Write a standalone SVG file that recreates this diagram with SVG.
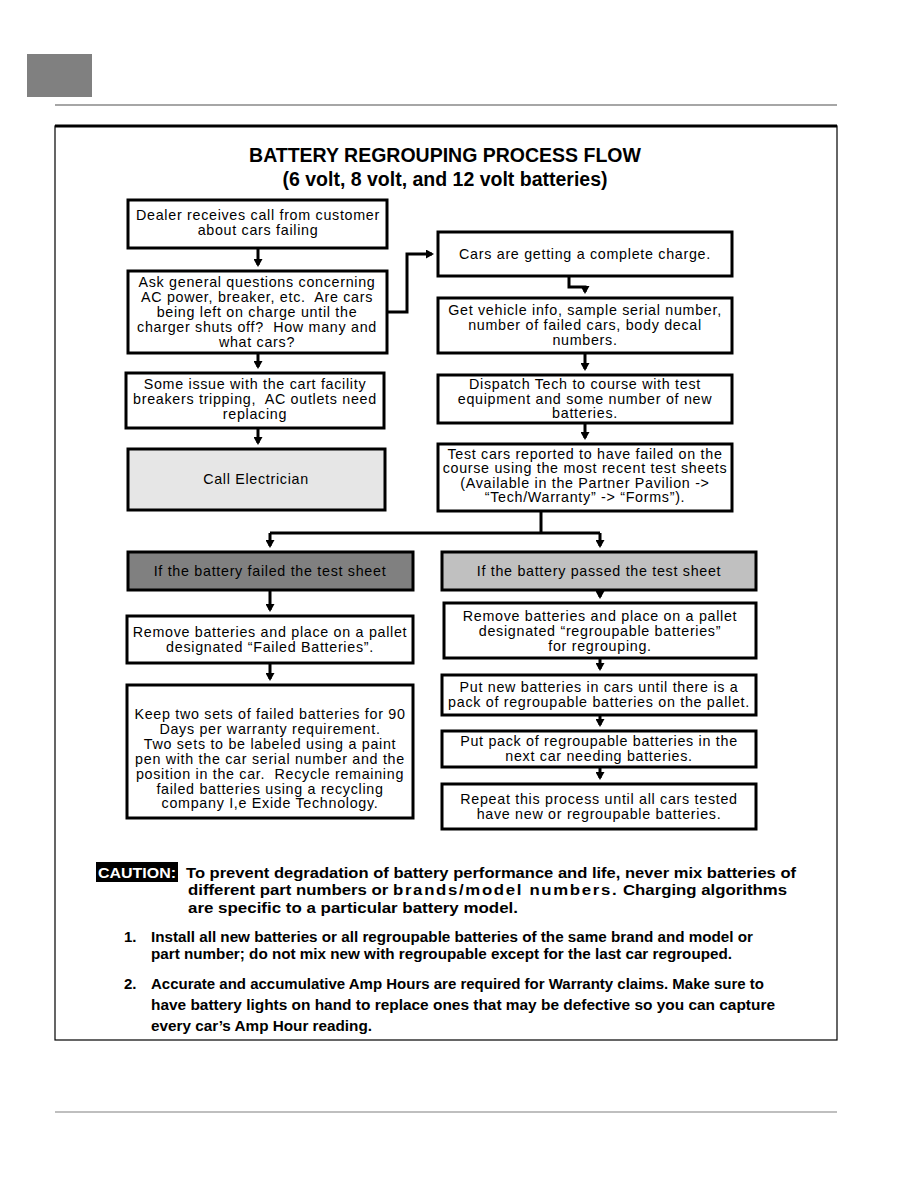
<svg xmlns="http://www.w3.org/2000/svg" width="918" height="1188" viewBox="0 0 918 1188">
<style>
.box{fill:#fff;stroke:#000;stroke-width:3}
.t{font-family:"Liberation Sans",Arial,sans-serif;font-size:14.3px;letter-spacing:0.7px;text-anchor:middle;fill:#000;white-space:pre}
.title{font-family:"Liberation Sans",Arial,sans-serif;font-size:19.5px;font-weight:bold;text-anchor:middle}
.n{font-family:"Liberation Sans Narrow","Liberation Sans",Arial,sans-serif;font-size:15px;font-weight:bold}
.c{fill:none;stroke:#000;stroke-width:3}
</style>
<defs>
<marker id="ah" markerWidth="9" markerHeight="9" refX="6" refY="4.5" orient="auto" markerUnits="userSpaceOnUse">
<path d="M0,0 L8,4.5 L0,9 Z" fill="#000"/>
</marker>
</defs>
<rect width="918" height="1188" fill="#fff"/>
<rect x="27" y="54" width="65" height="43" fill="#808080"/>
<line x1="55" y1="105" x2="837" y2="105" stroke="#888" stroke-width="1.5"/>
<line x1="55" y1="1112" x2="837" y2="1112" stroke="#aaa" stroke-width="1.5"/>
<rect x="55" y="126" width="782" height="914" fill="none" stroke="#000" stroke-width="1.2"/>
<line x1="55" y1="126" x2="837" y2="126" stroke="#000" stroke-width="3"/>
<text class="title" x="445" y="162">BATTERY REGROUPING PROCESS FLOW</text>
<text class="title" x="445" y="186">(6 volt, 8 volt, and 12 volt batteries)</text>

<g id="connectors">
<path class="c" d="M258,248 V265" marker-end="url(#ah)"/>
<path class="c" d="M258,353 V367" marker-end="url(#ah)"/>
<path class="c" d="M258,428 V443" marker-end="url(#ah)"/>
<path class="c" d="M387,312 H407 V254 H432" marker-end="url(#ah)"/>
<path class="c" d="M569,276 V287 H585 V292" marker-end="url(#ah)"/>
<path class="c" d="M585,353 V369" marker-end="url(#ah)"/>
<path class="c" d="M585,423 V438" marker-end="url(#ah)"/>
<path class="c" d="M541,511 V533"/>
<path class="c" d="M270,533 H600"/>
<path class="c" d="M270,533 V546" marker-end="url(#ah)"/>
<path class="c" d="M600,533 V546" marker-end="url(#ah)"/>
<path class="c" d="M270,590 V610" marker-end="url(#ah)"/>
<path class="c" d="M270,663 V679" marker-end="url(#ah)"/>
<path class="c" d="M600,590 V597" marker-end="url(#ah)"/>
<path class="c" d="M600,658 V669" marker-end="url(#ah)"/>
<path class="c" d="M600,715 V725" marker-end="url(#ah)"/>
<path class="c" d="M600,767 V778" marker-end="url(#ah)"/>
</g>

<g id="n1"><rect class="box" x="128" y="200" width="259" height="48"/>
<text class="t" x="258" y="220">Dealer receives call from customer</text>
<text class="t" x="258" y="235">about cars failing</text></g>

<g id="n2"><rect class="box" x="128" y="271" width="259" height="82"/>
<text class="t" x="257" y="287">Ask general questions concerning</text>
<text class="t" x="257" y="302">AC power, breaker, etc.  Are cars</text>
<text class="t" x="257" y="317">being left on charge until the</text>
<text class="t" x="257" y="332">charger shuts off?  How many and</text>
<text class="t" x="257" y="347">what cars?</text></g>

<g id="n3"><rect class="box" x="126" y="373" width="258" height="55"/>
<text class="t" x="255" y="389">Some issue with the cart facility</text>
<text class="t" x="255" y="404">breakers tripping,  AC outlets need</text>
<text class="t" x="255" y="419">replacing</text></g>

<g id="n4"><rect class="box" x="128" y="449" width="257" height="61" style="fill:#e6e6e6"/>
<text class="t" x="256" y="484">Call Electrician</text></g>

<g id="r1"><rect class="box" x="438" y="232" width="294" height="44"/>
<text class="t" x="585" y="259">Cars are getting a complete charge.</text></g>

<g id="r2"><rect class="box" x="438" y="298" width="294" height="55"/>
<text class="t" x="585" y="315">Get vehicle info, sample serial number,</text>
<text class="t" x="585" y="330">number of failed cars, body decal</text>
<text class="t" x="585" y="345">numbers.</text></g>

<g id="r3"><rect class="box" x="438" y="375" width="294" height="48"/>
<text class="t" x="585" y="389">Dispatch Tech to course with test</text>
<text class="t" x="585" y="404">equipment and some number of new</text>
<text class="t" x="585" y="418">batteries.</text></g>

<g id="r4"><rect class="box" x="438" y="444" width="294" height="67"/>
<text class="t" x="585" y="459">Test cars reported to have failed on the</text>
<text class="t" x="585" y="473">course using the most recent test sheets</text>
<text class="t" x="585" y="488">(Available in the Partner Pavilion -&gt;</text>
<text class="t" x="585" y="502">“Tech/Warranty” -&gt; “Forms”).</text></g>

<g id="l5"><rect class="box" x="128" y="552" width="285" height="38" style="fill:#808080"/>
<text class="t" x="270" y="576">If the battery failed the test sheet</text></g>

<g id="p5"><rect class="box" x="442" y="552" width="314" height="38" style="fill:#c0c0c0"/>
<text class="t" x="599" y="576">If the battery passed the test sheet</text></g>

<g id="l6"><rect class="box" x="127" y="616" width="286" height="47"/>
<text class="t" x="270" y="637">Remove batteries and place on a pallet</text>
<text class="t" x="270" y="652">designated “Failed Batteries”.</text></g>

<g id="l7"><rect class="box" x="127" y="685" width="286" height="133"/>
<text class="t" x="270" y="719">Keep two sets of failed batteries for 90</text>
<text class="t" x="270" y="734">Days per warranty requirement.</text>
<text class="t" x="270" y="749">Two sets to be labeled using a paint</text>
<text class="t" x="270" y="764">pen with the car serial number and the</text>
<text class="t" x="270" y="779">position in the car.  Recycle remaining</text>
<text class="t" x="270" y="794">failed batteries using a recycling</text>
<text class="t" x="270" y="808">company I,e Exide Technology.</text></g>

<g id="p6"><rect class="box" x="444" y="603" width="312" height="55"/>
<text class="t" x="600" y="621">Remove batteries and place on a pallet</text>
<text class="t" x="600" y="636">designated “regroupable batteries”</text>
<text class="t" x="600" y="651">for regrouping.</text></g>

<g id="p7"><rect class="box" x="442" y="675" width="314" height="40"/>
<text class="t" x="599" y="692">Put new batteries in cars until there is a</text>
<text class="t" x="599" y="707">pack of regroupable batteries on the pallet.</text></g>

<g id="p8"><rect class="box" x="442" y="731" width="314" height="36"/>
<text class="t" x="599" y="746">Put pack of regroupable batteries in the</text>
<text class="t" x="599" y="761">next car needing batteries.</text></g>

<g id="p9"><rect class="box" x="442" y="784" width="314" height="45"/>
<text class="t" x="599" y="804">Repeat this process until all cars tested</text>
<text class="t" x="599" y="819">have new or regroupable batteries.</text></g>

<g id="notes">
<rect x="96" y="862" width="82" height="20" fill="#000"/>
<text class="n" x="98" y="878" fill="#fff" textLength="78" lengthAdjust="spacingAndGlyphs">CAUTION:</text>
<text class="n" x="186" y="878" textLength="610" lengthAdjust="spacingAndGlyphs">To prevent degradation of battery performance and life, never mix batteries of</text>
<text class="n" x="188" y="895" textLength="599" lengthAdjust="spacingAndGlyphs">different part numbers or <tspan letter-spacing="1.5">brands/model numbers.</tspan> Charging algorithms</text>
<text class="n" x="188" y="913" textLength="330" lengthAdjust="spacingAndGlyphs">are specific to a particular battery model.</text>
<text class="n" x="124" y="942">1.</text>
<text class="n" x="151" y="942" textLength="602" lengthAdjust="spacingAndGlyphs">Install all new batteries or all regroupable batteries of the same brand and model or</text>
<text class="n" x="151" y="959" textLength="581" lengthAdjust="spacingAndGlyphs">part number; do not mix new with regroupable except for the last car regrouped.</text>
<text class="n" x="124" y="989">2.</text>
<text class="n" x="151" y="989" textLength="613" lengthAdjust="spacingAndGlyphs">Accurate and accumulative Amp Hours are required for Warranty claims. Make sure to</text>
<text class="n" x="151" y="1010" textLength="624" lengthAdjust="spacingAndGlyphs">have battery lights on hand to replace ones that may be defective so you can capture</text>
<text class="n" x="151" y="1031" textLength="221" lengthAdjust="spacingAndGlyphs">every car’s Amp Hour reading.</text>
</g>
</svg>
